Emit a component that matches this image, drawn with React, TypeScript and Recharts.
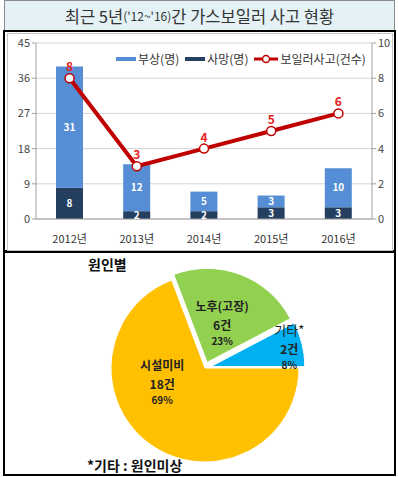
import React from 'react';
import {
  ComposedChart,
  Bar,
  Line,
  XAxis,
  YAxis,
  CartesianGrid,
  Legend,
  LabelList,
  PieChart,
  Pie,
  Cell,
  Sector,
} from 'recharts';

// 연도별 사고 현황
const years = ['2012년', '2013년', '2014년', '2015년', '2016년'];
const injured = [31, 12, 5, 3, 10];
const deaths = [8, 2, 2, 3, 3];
const accidents = [8, 3, 4, 5, 6];
const leftTicks = [0, 9, 18, 27, 36, 45];
const rightTicks = [0, 2, 4, 6, 8, 10];

// 원인별
const causes = ['기타*', '노후(고장)', '시설미비'];
const causeCounts = [2, 6, 18];
const causePercents = ['8%', '23%', '69%'];

const FONT = "'Noto Sans CJK KR', 'Noto Sans', sans-serif";
const INJURED_COLOR = '#558ED5';
const DEATH_COLOR = '#243F60';
const LINE_COLOR = '#C00000';
const pieColors = ['#00B0F0', '#92D050', '#FFC000'];
const explode = [6, 6, 0];
const labelRatio = [0.86, 0.45, 0.48];
const labelTurn = [0, 0, -37];

const barData = years.map((year, i) => ({
  year,
  injured: injured[i],
  deaths: deaths[i],
  accidents: accidents[i],
}));

const pieData = causes.map((name, i) => ({ name, value: causeCounts[i] }));

const legendItems = [
  { label: '부상(명)', color: INJURED_COLOR, kind: 'bar' },
  { label: '사망(명)', color: DEATH_COLOR, kind: 'bar' },
  { label: '보일러사고(건수)', color: LINE_COLOR, kind: 'line' },
];

function ChartLegend() {
  return (
    <div style={{ display: 'flex', alignItems: 'center', fontSize: 12, color: '#333', whiteSpace: 'nowrap' }}>
      {legendItems.map((it) => (
        <span key={it.label} style={{ display: 'flex', alignItems: 'center', marginRight: 6 }}>
          {it.kind === 'bar' ? (
            <span style={{ display: 'inline-block', width: 20, height: 4, background: it.color, marginRight: 2 }} />
          ) : (
            <svg width={24} height={10} style={{ marginRight: 2 }}>
              <line x1={0} y1={5} x2={24} y2={5} stroke={it.color} strokeWidth={3} />
              <circle cx={12} cy={5} r={3.5} fill="#fff" stroke={it.color} strokeWidth={1.5} />
            </svg>
          )}
          {it.label}
        </span>
      ))}
    </div>
  );
}

// 노후/기타 조각은 바깥쪽으로 살짝 빼서 그림
const renderSlice = (props: any) => {
  const i = causes.indexOf(props.payload?.name ?? props.name);
  const d = explode[i] ?? 0;
  const a = (props.midAngle * Math.PI) / 180;
  return (
    <Sector
      {...props}
      cx={props.cx + d * Math.cos(a)}
      cy={props.cy - d * Math.sin(a)}
    />
  );
};

const renderPieLabel = (p: any) => {
  const i = p.index;
  const a = ((p.midAngle + labelTurn[i]) * Math.PI) / 180;
  const r = p.outerRadius * labelRatio[i] + explode[i];
  const x = p.cx + r * Math.cos(a);
  const y = p.cy - r * Math.sin(a);
  return (
    <text x={x} y={y} textAnchor="middle" fill="#222" fontFamily={FONT}>
      <tspan x={x} dy={-12} fontSize={i === 0 ? 13 : 12} fontWeight={i === 0 ? 400 : 700}>
        {causes[i]}
      </tspan>
      <tspan x={x} dy={19} fontSize={12} fontWeight={700}>
        {causeCounts[i]}건
      </tspan>
      <tspan x={x} dy={15} fontSize={10} fontWeight={700}>
        {causePercents[i]}
      </tspan>
    </text>
  );
};

export default function App() {
  return (
    <div style={{ position: 'absolute', left: 0, top: 0, width: 398, height: 477, background: '#fff', fontFamily: FONT }}>
      {/* title */}
      <div
        style={{
          position: 'absolute', left: 4, top: 0, width: 391, height: 30, boxSizing: 'border-box',
          background: '#E4F2F6', border: '1px solid #8a8a8a', borderBottom: 'none',
          display: 'flex', alignItems: 'center', justifyContent: 'center', fontSize: 16.5, color: '#333',
        }}
      >
        최근 5년<span style={{ fontSize: 12 }}>('12~'16)</span>간 가스보일러 사고 현황
      </div>

      {/* bar + line chart */}
      <div style={{ position: 'absolute', left: 3, top: 30, width: 393, height: 222, boxSizing: 'border-box', border: '2px solid #000' }} />
      <div style={{ position: 'absolute', left: 7, top: 33, width: 386, height: 218, boxSizing: 'border-box', border: '1px solid #c4c4c4' }}>
        <ComposedChart width={384} height={216} data={barData} margin={{ top: 9, right: 0, left: 0, bottom: 5 }}>
          <CartesianGrid yAxisId="left" vertical={false} stroke="#d4d4d4" />
          <XAxis dataKey="year" axisLine={{ stroke: '#a0a0a0' }} tickLine={false} tick={{ fontSize: 11, fill: '#333' }} tickMargin={10} height={26} />
          <YAxis yAxisId="left" domain={[0, 45]} ticks={leftTicks} width={28} axisLine={{ stroke: '#a0a0a0' }} tickLine={{ stroke: '#a0a0a0' }} tickSize={4} tick={{ fontSize: 11, fill: '#444' }} />
          <YAxis yAxisId="right" orientation="right" domain={[0, 10]} ticks={rightTicks} width={20} axisLine={{ stroke: '#a0a0a0' }} tickLine={{ stroke: '#a0a0a0' }} tickSize={4} tick={{ fontSize: 11, fill: '#444' }} />
          <Legend layout="horizontal" verticalAlign="middle" align="center" wrapperStyle={{ top: 16, left: 108, width: 270 }} content={() => <ChartLegend />} />
          <Bar yAxisId="left" dataKey="deaths" name="사망(명)" stackId="a" fill={DEATH_COLOR} barSize={27} isAnimationActive={false}>
            <LabelList dataKey="deaths" position="center" fill="#fff" fontSize={10} fontWeight={700} />
          </Bar>
          <Bar yAxisId="left" dataKey="injured" name="부상(명)" stackId="a" fill={INJURED_COLOR} barSize={27} isAnimationActive={false}>
            <LabelList dataKey="injured" position="center" fill="#fff" fontSize={10} fontWeight={700} />
          </Bar>
          <Line
            yAxisId="right"
            dataKey="accidents"
            name="보일러사고(건수)"
            stroke={LINE_COLOR}
            strokeWidth={4}
            dot={{ r: 4.5, fill: '#fff', stroke: LINE_COLOR, strokeWidth: 1.5 }}
            isAnimationActive={false}
          >
            <LabelList dataKey="accidents" position="top" offset={7} fill="#E8201C" fontSize={12} fontWeight={700} />
          </Line>
        </ComposedChart>
      </div>

      {/* pie */}
      <div style={{ position: 'absolute', left: 3, top: 251, width: 393, height: 225, boxSizing: 'border-box', border: '2px solid #000' }} />
      <div style={{ position: 'absolute', left: 88, top: 254, fontSize: 14, fontWeight: 700, color: '#111' }}>원인별</div>
      <div style={{ position: 'absolute', left: 5, top: 253 }}>
        <PieChart width={389} height={221}>
          <Pie
            data={pieData}
            dataKey="value"
            nameKey="name"
            cx={195}
            cy={110}
            outerRadius={94}
            startAngle={0}
            endAngle={360}
            stroke="#fff"
            strokeWidth={1}
            shape={renderSlice}
            label={renderPieLabel}
            labelLine={false}
            isAnimationActive={false}
          >
            {pieData.map((d, i) => (
              <Cell key={d.name} fill={pieColors[i]} />
            ))}
          </Pie>
        </PieChart>
      </div>
      <div style={{ position: 'absolute', left: 87, top: 455, fontSize: 14, fontWeight: 700, color: '#111' }}>*기타 : 원인미상</div>
    </div>
  );
}
